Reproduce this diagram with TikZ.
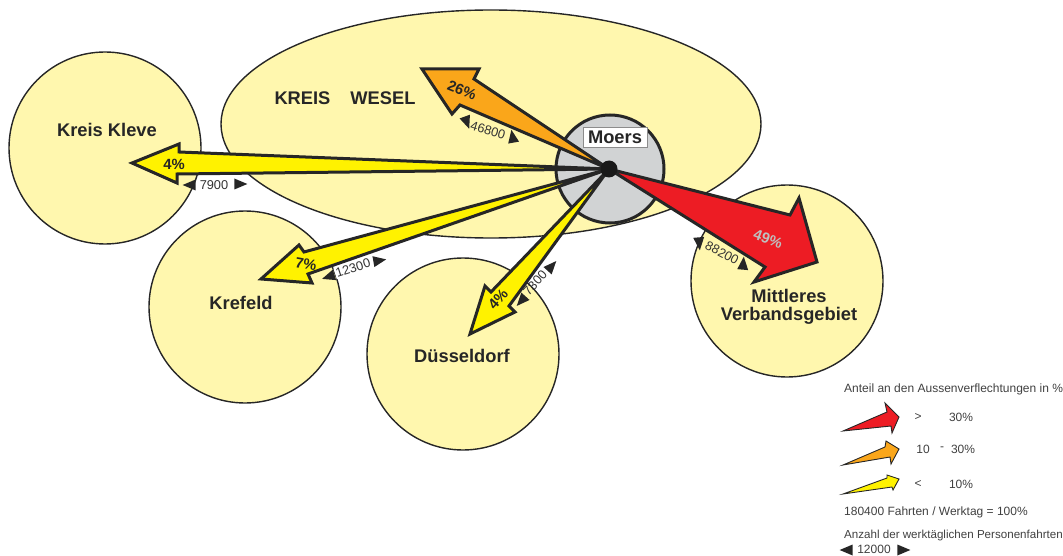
\documentclass[tikz,border=0pt]{standalone}
\usepackage{fontspec}
\setmainfont{Liberation Sans}
\usetikzlibrary{shapes.geometric}

\definecolor{areafill}{HTML}{FFF7AE}
\definecolor{flowred}{HTML}{ED1C24}
\definecolor{floworange}{HTML}{FAA61A}
\definecolor{flowyellow}{HTML}{FFF200}
\definecolor{hubgray}{HTML}{D1D3D4}

\begin{document}
\begin{tikzpicture}[x=1pt,y=-1pt,
	area/.style={circle,draw=black!85,fill=areafill,line width=1.4pt,minimum size=192pt,inner sep=0pt},
	flow/.style={draw=black!85,line width=3pt,line join=miter,miter limit=6},
	keyflow/.style={draw=black!85,line width=0.9pt,line join=miter},
	place/.style={font=\bfseries\fontsize{18.3}{18}\selectfont,text=black!85,align=center,inner sep=0pt},
	share/.style={font=\bfseries\fontsize{14.8}{15}\selectfont,text=black!85,inner sep=0pt},
	count/.style={font=\fontsize{12.8}{14}\selectfont,text=black!80,inner sep=1pt},
	keytext/.style={font=\fontsize{12}{14}\selectfont,text=black!75,inner sep=0pt},
	tick/.style={isosceles triangle,fill=black!85,inner sep=0pt,minimum height=13pt,minimum width=11pt,isosceles triangle stretches}]

\useasboundingbox (0,0) rectangle (1063,556);

%Gebiete
\node[draw=black!85,fill=areafill,line width=1.4pt,ellipse,minimum width=540pt,minimum height=228pt,inner sep=0pt] (wesel) at (491,124) {};
\node[area] (kleve) at (105,148) {};
\node[area] (krefeld) at (245,307) {};
\node[area] (duesseldorf) at (463,354) {};
\node[area] (verband) at (787,281) {};

%Moers
\node[circle,draw=black!85,fill=hubgray,line width=3pt,minimum size=108pt,inner sep=0pt] (hub) at (610,169) {};
\coordinate (M) at (609,169);

%Pfeile
\draw[flow,fill=floworange] (M) -- (474,79) -- (479,69) -- (422,69) -- (452,114) -- (460,105) -- cycle;
\draw[flow,fill=flowyellow] (M) -- (179,152) -- (179,144) -- (132,163) -- (177,183) -- (177,174) -- cycle;
\draw[flow,fill=flowyellow] (M) -- (304,252) -- (299,245) -- (261,279) -- (312,283) -- (308,274) -- cycle;
\draw[flow,fill=flowyellow] (M) -- (491,292) -- (485,286) -- (470,334) -- (515,312) -- (509,306) -- cycle;
\draw[flow,fill=flowred] (M) -- (790,215) -- (799,198) -- (817,262) -- (754,282) -- (765,267) -- cycle;
\node[circle,fill=black!90,minimum size=17pt,inner sep=0pt] (dot) at (M) {};

%Beschriftung
\node[place] (lkleve) at (107,130) {Kreis Kleve};
\node[place] (lwesel) at (345,98) {KREIS\hspace{20pt}WESEL};
\node[place] (lkrefeld) at (241,303) {Krefeld};
\node[place] (lduesseldorf) at (462,356) {Düsseldorf};
\node[place] (lverband) at (789,307) {Mittleres\\Verbandsgebiet};
\node[place,draw=black!45,line width=0.5pt,fill=white,minimum width=64pt,minimum height=20pt] (lhub) at (615,137) {Moers};

\node[share,rotate=-22] (p26) at (462,90) {26\%};
\node[share] (p4a) at (174,164) {4\%};
\node[share,rotate=-10] (p7) at (306,264) {7\%};
\node[share,rotate=48] (p4b) at (498,299) {4\%};
\node[share,rotate=-20,text=black!25] (p49) at (768,239) {49\%};

%Fahrten
\node[count,rotate=-17] (c46800) at (488,130) {46800};
\node[tick,rotate=-70] (c46800a) at (466,120) {};
\node[tick,rotate=100] (c46800b) at (513,139) {};
\node[count,fill=white] (c7900) at (214,185) {7900};
\node[tick,rotate=180] (c7900a) at (192,185) {};
\node[tick] (c7900b) at (238,184) {};
\node[count,fill=white,rotate=18] (c12300) at (353,268) {12300};
\node[tick,rotate=198] (c12300a) at (331,276) {};
\node[tick,rotate=10] (c12300b) at (377,261) {};
\node[count,rotate=48] (c7300) at (535,283) {7300};
\node[tick,rotate=228] (c7300a) at (523,299) {};
\node[tick,rotate=48] (c7300b) at (550,268) {};
\node[count,rotate=-28] (c88200) at (722,253) {88200};
\node[tick,rotate=-85] (c88200a) at (699,241) {};
\node[tick,rotate=85] (c88200b) at (743,266) {};

%Legende
\node[keytext,anchor=west] (ktitle) at (844,389) {Anteil an den Aussenverflechtungen in \%};
\draw[keyflow,fill=flowred] (843,431) -- (887,412) -- (885,403) -- (899,417) -- (892,433) -- (891,426) -- cycle;
\draw[keyflow,fill=floworange] (843,465) -- (885,447) -- (886,441) -- (899,449) -- (891,464) -- (890,457) -- cycle;
\draw[keyflow,fill=flowyellow] (843,494) -- (887,478) -- (887,475) -- (899,479) -- (893,490) -- (892,487) -- cycle;
\node[keytext] (k1a) at (918,417) {>};
\node[keytext] (k1b) at (961,417) {30\%};
\node[keytext] (k2a) at (923,449) {10};
\node[keytext] (k2c) at (942,449) {-};
\node[keytext] (k2b) at (963,449) {30\%};
\node[keytext] (k3a) at (918,484) {<};
\node[keytext] (k3b) at (961,484) {10\%};
\node[keytext,anchor=west] (ktotal) at (844,512) {180400 Fahrten / Werktag = 100\%};
\node[keytext,anchor=west,font=\fontsize{11.6}{14}\selectfont] (kcount) at (844,535) {Anzahl der werktäglichen Personenfahrten};
\node[keytext] (k12000) at (874,549.5) {12000};
\node[tick,rotate=180] (k12000a) at (849,550) {};
\node[tick] (k12000b) at (901,550) {};

\end{tikzpicture}
\end{document}
